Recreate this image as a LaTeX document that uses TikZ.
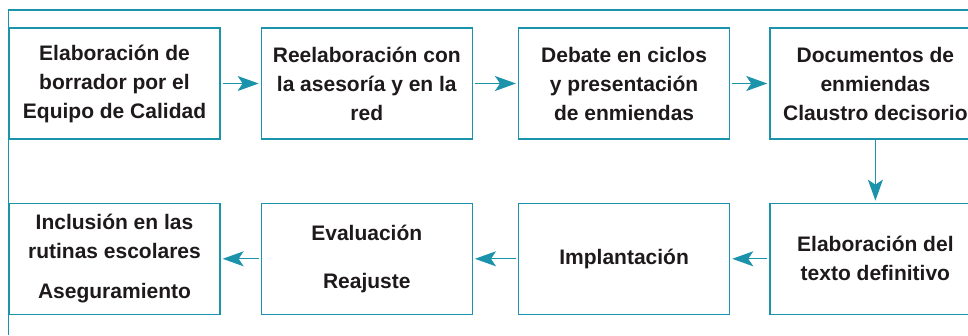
\documentclass[tikz,border=0pt]{standalone}
\usepackage{fontspec}
\setmainfont{Liberation Sans}
\usepackage{tikz}
\usetikzlibrary{positioning,arrows.meta}
\definecolor{framecolorc}{HTML}{1B93AB}
\definecolor{inkc}{HTML}{1E1A1B}
\colorlet{framecolor}{framecolorc}
\colorlet{textcolor}{inkc}
\tikzstyle{stagebox} = [
    draw=framecolor,
    line width=1.3pt,
    rectangle,
    minimum width=211pt,
    minimum height=111pt,
    inner sep=0pt,
    align=center,
    text=textcolor,
    font=\fontsize{21}{29}\selectfont\bfseries
    ]
\tikzstyle{flowarrow} = [
    draw=framecolor,
    line width=1.3pt,
    -{Stealth[length=21pt,width=15pt,inset=5pt]},
    shorten <=2pt,
    shorten >=2pt
    ]
\tikzstyle{frameline} = [
    draw=framecolor,
    line width=1.3pt
    ]

\begin{document}
\begin{tikzpicture}[x=1pt,y=1pt]
\clip (0,0) rectangle (968,-335);
% upper row
\node[stagebox] (b1) at (114.5,-83.5) {Elaboración de\\borrador por el\\Equipo de Calidad};
\node[stagebox, right=40pt of b1] (b2) {Reelaboración con\\la asesoría y en la\\red};
\node[stagebox, right=45pt of b2] (b3) {Debate en ciclos\\y presentación\\de enmiendas};
\node[stagebox, right=39pt of b3] (b4) {Documentos de\\enmiendas\\Claustro decisorio};
% lower row
\node[stagebox, below=63pt of b4] (b5) {Elaboración del\\texto definitivo};
\node[stagebox, below=63pt of b3] (b6) {Implantación};
\node[stagebox, below=63pt of b2] (b7) {Evaluación\\[19pt]Reajuste};
\node[stagebox, below=63pt of b1] (b8) {Inclusión en las\\rutinas escolares\\[11pt]Aseguramiento};
% frame
\draw[frameline] (968,-10) -- (b1.west |- 0,-10) -- (b1.west |- 0,-335);
% arrows
\draw[flowarrow] (b1.east) -- (b2.west);
\draw[flowarrow] (b2.east) -- (b3.west);
\draw[flowarrow] (b3.east) -- (b4.west);
\draw[flowarrow, shorten <=0pt] (b4.south) -- (b5.north);
\draw[flowarrow] (b5.west) -- (b6.east);
\draw[flowarrow] (b6.west) -- (b7.east);
\draw[flowarrow] (b7.west) -- (b8.east);
\end{tikzpicture}
\end{document}
